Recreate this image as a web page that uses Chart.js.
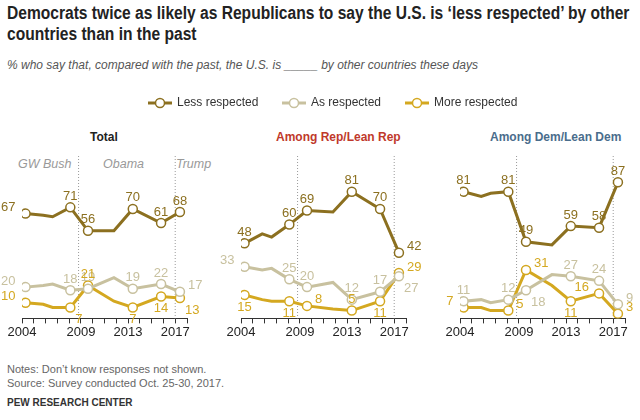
<!DOCTYPE html>
<html><head><meta charset="utf-8">
<script src="https://cdn.jsdelivr.net/npm/chart.js@4"></script>
<style>
body{margin:0;width:640px;height:420px;background:#fff;font-family:"Liberation Sans",Arial,sans-serif;position:relative;overflow:hidden;color:#222}
.t{position:absolute;left:7px;top:3px;font-size:17.5px;font-weight:bold;line-height:21px;width:700px;transform:scaleX(0.89);transform-origin:0 0}
.s{position:absolute;left:7px;top:58px;font-size:12px;font-style:italic;color:#555}
.pt{position:absolute;top:130px;font-size:12px;font-weight:bold}
.pr{position:absolute;top:157px;font-size:12.5px;font-style:italic;color:#999}
.n{position:absolute;left:7px;font-size:11px;color:#666}
canvas{position:absolute}
</style></head><body>
<div class="t">Democrats twice as likely as Republicans to say the U.S. is ‘less respected’ by other countries than in the past</div>
<div class="s">% who say that, compared with the past, the U.S. is _____ by other countries these days</div>
<canvas id="lgc" width="640" height="20" style="left:0;top:93px"></canvas>
<div class="pt" style="left:90px">Total</div>
<div class="pt" style="left:276px;color:#c0392b">Among Rep/Lean Rep</div>
<div class="pt" style="left:490px;color:#4a6d8c">Among Dem/Lean Dem</div>
<div class="pr" style="left:18px">GW Bush</div>
<div class="pr" style="left:103px">Obama</div>
<div class="pr" style="left:176px">Trump</div>
<canvas id="c0" style="left:-8px;top:156px;width:211px;height:185px"></canvas>
<canvas id="c1" style="left:211px;top:156px;width:211px;height:185px"></canvas>
<canvas id="c2" style="left:430px;top:156px;width:211px;height:185px"></canvas>
<div class="n" style="top:363px">Notes: Don’t know responses not shown.</div>
<div class="n" style="top:377px">Source: Survey conducted Oct. 25-30, 2017.</div>
<div class="n" style="top:397px;font-weight:bold;color:#333;font-size:10px">PEW RESEARCH CENTER</div>
<script>
const years=[2004.3,2005.8,2006.6,2008.1,2009.6,2011.8,2013.4,2015.8,2017.4];
const labelled=[0,3,4,6,7,8];
const seriesNames=["Less respected","As respected","More respected"];
const colors=["#8c7020","#c8c19f","#d4a820"];
const totalLess=[67,66,65,71,56,56,70,61,68];
const totalAs=[20,21,22,18,19,26,19,22,17];
const totalMore=[10,9,7,7,21,11,7,14,13];
const repLess=[48,54,52,60,69,68,81,70,42];
const repAs=[33,31,32,25,20,23,12,17,27];
const repMore=[15,12,11,11,8,6,5,11,29];
const demLess=[81,78,80,81,49,47,59,58,87];
const demAs=[11,12,10,12,18,28,27,24,9];
const demMore=[7,7,5,5,31,21,11,16,3];
const tickYears=[2004,2009,2013,2017];
const dividers=[2008.8,2017.0];
const panels=[
 {data:[totalLess,totalAs,totalMore],pos:[["l","a","a","a","a","a"],["l","a","a","a","a","r"],["l","br","a","b","b","br"]]},
 {data:[repLess,repAs,repMore],pos:[["a","a","a","a","a","r"],["l","a","a","a","a","br"],["b","b","r","a","b","r"]]},
 {data:[demLess,demAs,demMore],pos:[["a","a","a","a","a","a"],["a","a","br","a","a","r"],["l","r","r","b","l","r"]]}
];
const lab={id:'lab',
 beforeDatasetsDraw(ch){const {ctx,chartArea:a,scales:{x}}=ch;ctx.save();ctx.strokeStyle='#999';ctx.setLineDash([1,2]);ctx.lineWidth=1;
  dividers.forEach(d=>{const px=x.getPixelForValue(d);ctx.beginPath();ctx.moveTo(px,0);ctx.lineTo(px,a.bottom);ctx.stroke();});ctx.restore();},
 afterDatasetsDraw(ch){const ctx=ch.ctx;ctx.save();ctx.font='13px "Liberation Sans",Arial';
  ch.data.datasets.forEach((ds,di)=>{const meta=ch.getDatasetMeta(di);
   labelled.forEach((i,k)=>{const p=meta.data[i];const pos=ch.options.plugins.lab.pos[di][k];
    let dx=0,dy=-11;ctx.textAlign='center';ctx.textBaseline='middle';
    if(pos==='b')dy=12; if(pos==='r'){dx=8;dy=-6;ctx.textAlign='left';} if(pos==='l'){dx=-10;dy=-6;ctx.textAlign='right';}
    if(pos==='br'){dx=5;dy=12;ctx.textAlign='left';}
    ctx.fillStyle=colors[di];ctx.fillText(ds.data[i].y,p.x+dx,p.y+dy);});});ctx.restore();}};
panels.forEach((pn,pi)=>{
 new Chart(document.getElementById('c'+pi),{type:'line',
  data:{datasets:pn.data.map((arr,si)=>({label:seriesNames[si],data:arr.map((v,i)=>({x:years[i],y:v})),borderColor:colors[si],borderWidth:3,
   pointRadius:arr.map((v,i)=>labelled.includes(i)?4.5:0),pointBackgroundColor:'#fff',pointBorderColor:colors[si],pointBorderWidth:1.5,tension:0}))},
  options:{responsive:false,animation:false,layout:{padding:{left:30,right:16,top:0}},
   plugins:{legend:{display:false},tooltip:{enabled:false},lab:{pos:pn.pos}},
   scales:{x:{type:'linear',min:2004,max:2018,afterBuildTicks(ax){ax.ticks=[];for(let y=2004;y<=2018;y++)ax.ticks.push({value:y});},
     ticks:{autoSkip:false,maxRotation:0,callback:v=>tickYears.includes(v)?String(v):'',color:'#222',font:{size:13,family:'"Liberation Sans",Arial'},padding:1},
     grid:{drawOnChartArea:false,tickLength:5,color:'#333'},border:{color:'#333',width:1}},
    y:{display:false,min:0,max:100}}},
  plugins:[lab]});
});
const lc=document.getElementById('lgc');const lx=lc.getContext('2d');
[[148,"Less respected"],[282,"As respected"],[405,"More respected"]].forEach(([x,t],i)=>{lx.strokeStyle=colors[i];lx.lineWidth=3;lx.beginPath();lx.moveTo(x,10);lx.lineTo(x+24,10);lx.stroke();
 lx.fillStyle='#fff';lx.lineWidth=1.5;lx.beginPath();lx.arc(x+12,10,4.5,0,7);lx.fill();lx.stroke();lx.fillStyle='#333';lx.font='12px "Liberation Sans",Arial';lx.textBaseline='middle';lx.fillText(t,x+29,10);});
</script></body></html>
